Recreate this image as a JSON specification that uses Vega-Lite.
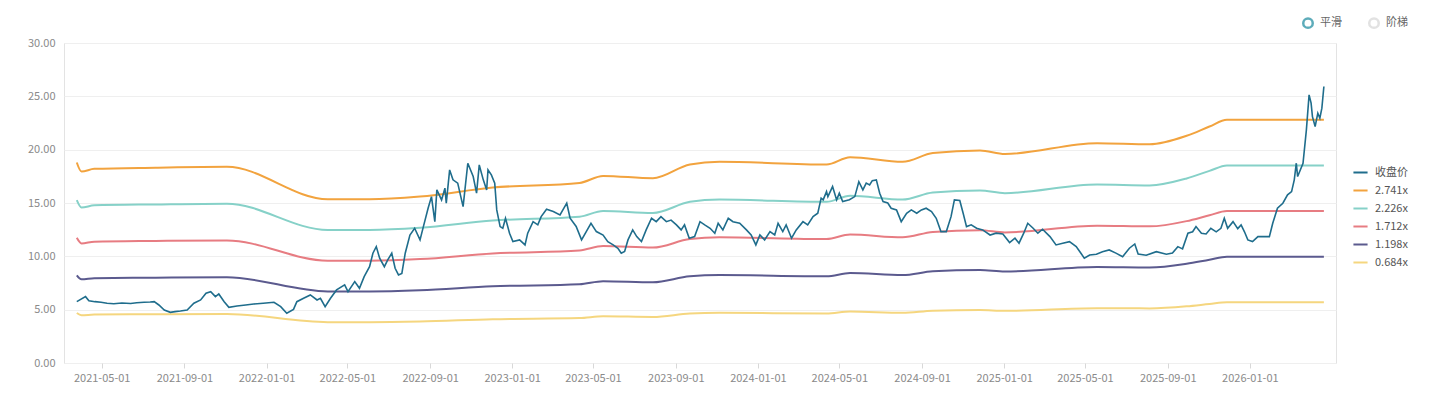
{
  "$schema": "https://vega.github.io/schema/vega-lite/v6.json",
  "width": 1272,
  "height": 320,
  "autosize": {"type": "none"},
  "padding": {"left": 64, "top": 43, "right": 101, "bottom": 39},
  "background": "#ffffff",
  "config": {
    "font": "Noto Sans CJK SC",
    "view": {"stroke": "#e3e3e3"},
    "axis": {
      "labelFont": "Noto Sans CJK SC",
      "labelFontSize": 11,
      "labelColor": "#8a8a8a",
      "gridColor": "#efefef",
      "domain": false,
      "tickColor": "#d8d8d8",
      "title": null
    },
    "legend": {"labelFont": "Noto Sans CJK SC"}
  },
  "datasets": {
    "price": [
      {"date": "2021-03-25", "series": "收盘价", "value": 5.75},
      {"date": "2021-04-07", "series": "收盘价", "value": 6.22},
      {"date": "2021-04-12", "series": "收盘价", "value": 5.84},
      {"date": "2021-04-21", "series": "收盘价", "value": 5.75},
      {"date": "2021-04-30", "series": "收盘价", "value": 5.69},
      {"date": "2021-05-09", "series": "收盘价", "value": 5.6},
      {"date": "2021-05-19", "series": "收盘价", "value": 5.55},
      {"date": "2021-05-31", "series": "收盘价", "value": 5.62},
      {"date": "2021-06-13", "series": "收盘价", "value": 5.58},
      {"date": "2021-06-22", "series": "收盘价", "value": 5.65},
      {"date": "2021-07-03", "series": "收盘价", "value": 5.69},
      {"date": "2021-07-12", "series": "收盘价", "value": 5.72},
      {"date": "2021-07-18", "series": "收盘价", "value": 5.75},
      {"date": "2021-07-25", "series": "收盘价", "value": 5.44},
      {"date": "2021-08-02", "series": "收盘价", "value": 4.97},
      {"date": "2021-08-11", "series": "收盘价", "value": 4.75},
      {"date": "2021-08-18", "series": "收盘价", "value": 4.82},
      {"date": "2021-08-26", "series": "收盘价", "value": 4.88},
      {"date": "2021-09-05", "series": "收盘价", "value": 4.97},
      {"date": "2021-09-15", "series": "收盘价", "value": 5.6},
      {"date": "2021-09-25", "series": "收盘价", "value": 5.91},
      {"date": "2021-10-03", "series": "收盘价", "value": 6.54},
      {"date": "2021-10-10", "series": "收盘价", "value": 6.69},
      {"date": "2021-10-17", "series": "收盘价", "value": 6.22},
      {"date": "2021-10-22", "series": "收盘价", "value": 6.47},
      {"date": "2021-10-30", "series": "收盘价", "value": 5.75},
      {"date": "2021-11-06", "series": "收盘价", "value": 5.22},
      {"date": "2021-11-18", "series": "收盘价", "value": 5.35},
      {"date": "2021-12-01", "series": "收盘价", "value": 5.44},
      {"date": "2021-12-13", "series": "收盘价", "value": 5.53},
      {"date": "2021-12-27", "series": "收盘价", "value": 5.6},
      {"date": "2022-01-12", "series": "收盘价", "value": 5.69},
      {"date": "2022-01-22", "series": "收盘价", "value": 5.28},
      {"date": "2022-01-31", "series": "收盘价", "value": 4.66},
      {"date": "2022-02-10", "series": "收盘价", "value": 5.03},
      {"date": "2022-02-15", "series": "收盘价", "value": 5.75},
      {"date": "2022-02-25", "series": "收盘价", "value": 6.07},
      {"date": "2022-03-07", "series": "收盘价", "value": 6.38},
      {"date": "2022-03-17", "series": "收盘价", "value": 5.91},
      {"date": "2022-03-22", "series": "收盘价", "value": 6.07},
      {"date": "2022-03-29", "series": "收盘价", "value": 5.28},
      {"date": "2022-04-06", "series": "收盘价", "value": 6.07},
      {"date": "2022-04-15", "series": "收盘价", "value": 6.85},
      {"date": "2022-04-27", "series": "收盘价", "value": 7.32},
      {"date": "2022-05-02", "series": "收盘价", "value": 6.69},
      {"date": "2022-05-12", "series": "收盘价", "value": 7.63},
      {"date": "2022-05-19", "series": "收盘价", "value": 7.0},
      {"date": "2022-05-26", "series": "收盘价", "value": 8.1},
      {"date": "2022-06-03", "series": "收盘价", "value": 9.03},
      {"date": "2022-06-08", "series": "收盘价", "value": 10.29},
      {"date": "2022-06-13", "series": "收盘价", "value": 10.91},
      {"date": "2022-06-18", "series": "收盘价", "value": 9.82},
      {"date": "2022-06-25", "series": "收盘价", "value": 9.03},
      {"date": "2022-06-30", "series": "收盘价", "value": 9.66},
      {"date": "2022-07-06", "series": "收盘价", "value": 10.29},
      {"date": "2022-07-11", "series": "收盘价", "value": 8.88},
      {"date": "2022-07-16", "series": "收盘价", "value": 8.26},
      {"date": "2022-07-21", "series": "收盘价", "value": 8.4},
      {"date": "2022-07-26", "series": "收盘价", "value": 10.29},
      {"date": "2022-08-02", "series": "收盘价", "value": 12.0},
      {"date": "2022-08-09", "series": "收盘价", "value": 12.63},
      {"date": "2022-08-17", "series": "收盘价", "value": 11.54},
      {"date": "2022-08-22", "series": "收盘价", "value": 12.79},
      {"date": "2022-08-29", "series": "收盘价", "value": 14.51},
      {"date": "2022-09-03", "series": "收盘价", "value": 15.6},
      {"date": "2022-09-08", "series": "收盘价", "value": 13.25},
      {"date": "2022-09-11", "series": "收盘价", "value": 16.23},
      {"date": "2022-09-18", "series": "收盘价", "value": 15.29},
      {"date": "2022-09-23", "series": "收盘价", "value": 16.39},
      {"date": "2022-09-25", "series": "收盘价", "value": 14.98},
      {"date": "2022-09-30", "series": "收盘价", "value": 18.1},
      {"date": "2022-10-05", "series": "收盘价", "value": 17.17},
      {"date": "2022-10-12", "series": "收盘价", "value": 16.86},
      {"date": "2022-10-20", "series": "收盘价", "value": 14.66},
      {"date": "2022-10-27", "series": "收盘价", "value": 18.73},
      {"date": "2022-11-04", "series": "收盘价", "value": 17.48},
      {"date": "2022-11-09", "series": "收盘价", "value": 15.92},
      {"date": "2022-11-13", "series": "收盘价", "value": 18.57},
      {"date": "2022-11-19", "series": "收盘价", "value": 17.17},
      {"date": "2022-11-24", "series": "收盘价", "value": 16.23},
      {"date": "2022-11-26", "series": "收盘价", "value": 18.1},
      {"date": "2022-12-01", "series": "收盘价", "value": 17.64},
      {"date": "2022-12-06", "series": "收盘价", "value": 16.86},
      {"date": "2022-12-09", "series": "收盘价", "value": 14.35},
      {"date": "2022-12-14", "series": "收盘价", "value": 12.79},
      {"date": "2022-12-18", "series": "收盘价", "value": 12.63},
      {"date": "2022-12-22", "series": "收盘价", "value": 13.57},
      {"date": "2022-12-28", "series": "收盘价", "value": 12.17},
      {"date": "2023-01-02", "series": "收盘价", "value": 11.38},
      {"date": "2023-01-12", "series": "收盘价", "value": 11.54},
      {"date": "2023-01-20", "series": "收盘价", "value": 11.07},
      {"date": "2023-01-24", "series": "收盘价", "value": 12.17},
      {"date": "2023-02-01", "series": "收盘价", "value": 13.25},
      {"date": "2023-02-08", "series": "收盘价", "value": 12.95},
      {"date": "2023-02-13", "series": "收盘价", "value": 13.72},
      {"date": "2023-02-21", "series": "收盘价", "value": 14.42},
      {"date": "2023-03-03", "series": "收盘价", "value": 14.2},
      {"date": "2023-03-13", "series": "收盘价", "value": 13.88},
      {"date": "2023-03-23", "series": "收盘价", "value": 14.98},
      {"date": "2023-03-28", "series": "收盘价", "value": 13.57},
      {"date": "2023-04-06", "series": "收盘价", "value": 12.8},
      {"date": "2023-04-14", "series": "收盘价", "value": 11.54},
      {"date": "2023-04-21", "series": "收盘价", "value": 12.32},
      {"date": "2023-04-28", "series": "收盘价", "value": 13.1},
      {"date": "2023-05-06", "series": "收盘价", "value": 12.32},
      {"date": "2023-05-16", "series": "收盘价", "value": 12.0},
      {"date": "2023-05-23", "series": "收盘价", "value": 11.38},
      {"date": "2023-05-31", "series": "收盘价", "value": 11.07},
      {"date": "2023-06-07", "series": "收盘价", "value": 10.76},
      {"date": "2023-06-12", "series": "收盘价", "value": 10.29},
      {"date": "2023-06-17", "series": "收盘价", "value": 10.45},
      {"date": "2023-06-22", "series": "收盘价", "value": 11.54},
      {"date": "2023-06-29", "series": "收盘价", "value": 12.48},
      {"date": "2023-07-05", "series": "收盘价", "value": 11.85},
      {"date": "2023-07-12", "series": "收盘价", "value": 11.38},
      {"date": "2023-07-19", "series": "收盘价", "value": 12.48},
      {"date": "2023-07-27", "series": "收盘价", "value": 13.57},
      {"date": "2023-08-03", "series": "收盘价", "value": 13.25},
      {"date": "2023-08-10", "series": "收盘价", "value": 13.72},
      {"date": "2023-08-18", "series": "收盘价", "value": 13.25},
      {"date": "2023-08-25", "series": "收盘价", "value": 13.4},
      {"date": "2023-09-02", "series": "收盘价", "value": 12.95},
      {"date": "2023-09-09", "series": "收盘价", "value": 12.48},
      {"date": "2023-09-14", "series": "收盘价", "value": 12.95},
      {"date": "2023-09-21", "series": "收盘价", "value": 11.7},
      {"date": "2023-09-29", "series": "收盘价", "value": 11.85},
      {"date": "2023-10-07", "series": "收盘价", "value": 13.25},
      {"date": "2023-10-14", "series": "收盘价", "value": 12.95},
      {"date": "2023-10-22", "series": "收盘价", "value": 12.63},
      {"date": "2023-10-29", "series": "收盘价", "value": 12.17},
      {"date": "2023-11-03", "series": "收盘价", "value": 13.1},
      {"date": "2023-11-10", "series": "收盘价", "value": 12.48},
      {"date": "2023-11-18", "series": "收盘价", "value": 13.57},
      {"date": "2023-11-25", "series": "收盘价", "value": 13.25},
      {"date": "2023-12-05", "series": "收盘价", "value": 13.1},
      {"date": "2023-12-15", "series": "收盘价", "value": 12.48},
      {"date": "2023-12-22", "series": "收盘价", "value": 12.0},
      {"date": "2023-12-29", "series": "收盘价", "value": 11.07},
      {"date": "2024-01-04", "series": "收盘价", "value": 12.0},
      {"date": "2024-01-11", "series": "收盘价", "value": 11.54},
      {"date": "2024-01-19", "series": "收盘价", "value": 12.32},
      {"date": "2024-01-26", "series": "收盘价", "value": 12.0},
      {"date": "2024-01-31", "series": "收盘价", "value": 13.1},
      {"date": "2024-02-07", "series": "收盘价", "value": 12.32},
      {"date": "2024-02-12", "series": "收盘价", "value": 12.95},
      {"date": "2024-02-20", "series": "收盘价", "value": 11.7},
      {"date": "2024-02-27", "series": "收盘价", "value": 12.48},
      {"date": "2024-03-08", "series": "收盘价", "value": 13.25},
      {"date": "2024-03-15", "series": "收盘价", "value": 12.95},
      {"date": "2024-03-23", "series": "收盘价", "value": 13.72},
      {"date": "2024-03-30", "series": "收盘价", "value": 14.04},
      {"date": "2024-04-04", "series": "收盘价", "value": 15.45},
      {"date": "2024-04-07", "series": "收盘价", "value": 15.29},
      {"date": "2024-04-12", "series": "收盘价", "value": 16.07},
      {"date": "2024-04-14", "series": "收盘价", "value": 15.6},
      {"date": "2024-04-21", "series": "收盘价", "value": 16.54},
      {"date": "2024-04-27", "series": "收盘价", "value": 15.29},
      {"date": "2024-05-01", "series": "收盘价", "value": 15.92},
      {"date": "2024-05-06", "series": "收盘价", "value": 15.13},
      {"date": "2024-05-16", "series": "收盘价", "value": 15.3},
      {"date": "2024-05-24", "series": "收盘价", "value": 15.6},
      {"date": "2024-05-30", "series": "收盘价", "value": 17.0},
      {"date": "2024-06-05", "series": "收盘价", "value": 16.23},
      {"date": "2024-06-10", "series": "收盘价", "value": 16.86},
      {"date": "2024-06-15", "series": "收盘价", "value": 16.7},
      {"date": "2024-06-19", "series": "收盘价", "value": 17.1},
      {"date": "2024-06-25", "series": "收盘价", "value": 17.17},
      {"date": "2024-06-30", "series": "收盘价", "value": 15.92},
      {"date": "2024-07-05", "series": "收盘价", "value": 15.13},
      {"date": "2024-07-12", "series": "收盘价", "value": 15.0},
      {"date": "2024-07-17", "series": "收盘价", "value": 14.51},
      {"date": "2024-07-25", "series": "收盘价", "value": 14.35},
      {"date": "2024-08-01", "series": "收盘价", "value": 13.25},
      {"date": "2024-08-09", "series": "收盘价", "value": 14.04},
      {"date": "2024-08-16", "series": "收盘价", "value": 14.35},
      {"date": "2024-08-24", "series": "收盘价", "value": 14.04},
      {"date": "2024-08-31", "series": "收盘价", "value": 14.35},
      {"date": "2024-09-07", "series": "收盘价", "value": 14.51},
      {"date": "2024-09-15", "series": "收盘价", "value": 14.2},
      {"date": "2024-09-22", "series": "收盘价", "value": 13.57},
      {"date": "2024-09-29", "series": "收盘价", "value": 12.32},
      {"date": "2024-10-07", "series": "收盘价", "value": 12.32},
      {"date": "2024-10-14", "series": "收盘价", "value": 13.72},
      {"date": "2024-10-19", "series": "收盘价", "value": 15.29},
      {"date": "2024-10-27", "series": "收盘价", "value": 15.23},
      {"date": "2024-11-01", "series": "收盘价", "value": 14.04},
      {"date": "2024-11-06", "series": "收盘价", "value": 12.79},
      {"date": "2024-11-13", "series": "收盘价", "value": 12.95},
      {"date": "2024-11-21", "series": "收盘价", "value": 12.63},
      {"date": "2024-11-30", "series": "收盘价", "value": 12.48},
      {"date": "2024-12-11", "series": "收盘价", "value": 12.0},
      {"date": "2024-12-20", "series": "收盘价", "value": 12.17},
      {"date": "2024-12-30", "series": "收盘价", "value": 12.1},
      {"date": "2025-01-09", "series": "收盘价", "value": 11.29},
      {"date": "2025-01-17", "series": "收盘价", "value": 11.7},
      {"date": "2025-01-23", "series": "收盘价", "value": 11.23},
      {"date": "2025-01-30", "series": "收盘价", "value": 12.17},
      {"date": "2025-02-05", "series": "收盘价", "value": 13.1},
      {"date": "2025-02-13", "series": "收盘价", "value": 12.63},
      {"date": "2025-02-20", "series": "收盘价", "value": 12.17},
      {"date": "2025-02-27", "series": "收盘价", "value": 12.54},
      {"date": "2025-03-10", "series": "收盘价", "value": 11.85},
      {"date": "2025-03-19", "series": "收盘价", "value": 11.07},
      {"date": "2025-03-29", "series": "收盘价", "value": 11.23},
      {"date": "2025-04-08", "series": "收盘价", "value": 11.38},
      {"date": "2025-04-18", "series": "收盘价", "value": 10.91},
      {"date": "2025-04-25", "series": "收盘价", "value": 10.29},
      {"date": "2025-04-30", "series": "收盘价", "value": 9.82},
      {"date": "2025-05-08", "series": "收盘价", "value": 10.13},
      {"date": "2025-05-18", "series": "收盘价", "value": 10.2},
      {"date": "2025-05-27", "series": "收盘价", "value": 10.44},
      {"date": "2025-06-06", "series": "收盘价", "value": 10.6},
      {"date": "2025-06-16", "series": "收盘价", "value": 10.3},
      {"date": "2025-06-26", "series": "收盘价", "value": 9.97},
      {"date": "2025-07-06", "series": "收盘价", "value": 10.76},
      {"date": "2025-07-14", "series": "收盘价", "value": 11.16},
      {"date": "2025-07-19", "series": "收盘价", "value": 10.22},
      {"date": "2025-07-31", "series": "收盘价", "value": 10.1},
      {"date": "2025-08-15", "series": "收盘价", "value": 10.44},
      {"date": "2025-08-30", "series": "收盘价", "value": 10.2},
      {"date": "2025-09-08", "series": "收盘价", "value": 10.3},
      {"date": "2025-09-16", "series": "收盘价", "value": 10.91},
      {"date": "2025-09-23", "series": "收盘价", "value": 10.7},
      {"date": "2025-10-01", "series": "收盘价", "value": 12.17},
      {"date": "2025-10-08", "series": "收盘价", "value": 12.3},
      {"date": "2025-10-13", "series": "收盘价", "value": 12.79},
      {"date": "2025-10-21", "series": "收盘价", "value": 12.17},
      {"date": "2025-10-28", "series": "收盘价", "value": 12.1},
      {"date": "2025-11-04", "series": "收盘价", "value": 12.63},
      {"date": "2025-11-12", "series": "收盘价", "value": 12.3},
      {"date": "2025-11-19", "series": "收盘价", "value": 12.63},
      {"date": "2025-11-24", "series": "收盘价", "value": 13.57},
      {"date": "2025-11-29", "series": "收盘价", "value": 12.63},
      {"date": "2025-12-07", "series": "收盘价", "value": 13.25},
      {"date": "2025-12-14", "series": "收盘价", "value": 12.6},
      {"date": "2025-12-19", "series": "收盘价", "value": 12.95},
      {"date": "2025-12-24", "series": "收盘价", "value": 12.3},
      {"date": "2025-12-29", "series": "收盘价", "value": 11.54},
      {"date": "2026-01-05", "series": "收盘价", "value": 11.38},
      {"date": "2026-01-13", "series": "收盘价", "value": 11.85},
      {"date": "2026-01-20", "series": "收盘价", "value": 11.85},
      {"date": "2026-01-30", "series": "收盘价", "value": 11.85},
      {"date": "2026-02-04", "series": "收盘价", "value": 13.1},
      {"date": "2026-02-11", "series": "收盘价", "value": 14.51},
      {"date": "2026-02-19", "series": "收盘价", "value": 14.98},
      {"date": "2026-02-26", "series": "收盘价", "value": 15.76},
      {"date": "2026-03-04", "series": "收盘价", "value": 16.07},
      {"date": "2026-03-08", "series": "收盘价", "value": 17.17},
      {"date": "2026-03-11", "series": "收盘价", "value": 18.73},
      {"date": "2026-03-13", "series": "收盘价", "value": 17.48},
      {"date": "2026-03-21", "series": "收盘价", "value": 18.73},
      {"date": "2026-03-26", "series": "收盘价", "value": 21.86},
      {"date": "2026-03-30", "series": "收盘价", "value": 25.14},
      {"date": "2026-04-02", "series": "收盘价", "value": 24.36},
      {"date": "2026-04-04", "series": "收盘价", "value": 23.1},
      {"date": "2026-04-08", "series": "收盘价", "value": 22.17},
      {"date": "2026-04-12", "series": "收盘价", "value": 23.42},
      {"date": "2026-04-15", "series": "收盘价", "value": 22.95},
      {"date": "2026-04-18", "series": "收盘价", "value": 23.89},
      {"date": "2026-04-21", "series": "收盘价", "value": 25.92}
    ],
    "bands": [
      {"date": "2021-03-25", "series": "2.741x", "value": 18.8},
      {"date": "2021-04-01", "series": "2.741x", "value": 17.95},
      {"date": "2021-04-20", "series": "2.741x", "value": 18.2},
      {"date": "2021-07-20", "series": "2.741x", "value": 18.31},
      {"date": "2021-11-03", "series": "2.741x", "value": 18.39},
      {"date": "2022-04-02", "series": "2.741x", "value": 15.35},
      {"date": "2022-06-03", "series": "2.741x", "value": 15.35},
      {"date": "2022-08-17", "series": "2.741x", "value": 15.6},
      {"date": "2022-12-03", "series": "2.741x", "value": 16.45},
      {"date": "2023-04-11", "series": "2.741x", "value": 16.88},
      {"date": "2023-05-16", "series": "2.741x", "value": 17.54},
      {"date": "2023-07-29", "series": "2.741x", "value": 17.32},
      {"date": "2023-09-22", "series": "2.741x", "value": 18.61},
      {"date": "2023-11-05", "series": "2.741x", "value": 18.86},
      {"date": "2024-04-12", "series": "2.741x", "value": 18.61},
      {"date": "2024-05-17", "series": "2.741x", "value": 19.3},
      {"date": "2024-08-03", "series": "2.741x", "value": 18.86},
      {"date": "2024-09-17", "series": "2.741x", "value": 19.68},
      {"date": "2024-11-26", "series": "2.741x", "value": 19.93},
      {"date": "2025-01-02", "series": "2.741x", "value": 19.6},
      {"date": "2025-05-19", "series": "2.741x", "value": 20.61},
      {"date": "2025-08-05", "series": "2.741x", "value": 20.5},
      {"date": "2025-09-29", "series": "2.741x", "value": 21.3},
      {"date": "2025-11-02", "series": "2.741x", "value": 22.17},
      {"date": "2025-11-28", "series": "2.741x", "value": 22.81},
      {"date": "2026-04-21", "series": "2.741x", "value": 22.81},
      {"date": "2021-03-25", "series": "2.226x", "value": 15.27},
      {"date": "2021-04-01", "series": "2.226x", "value": 14.58},
      {"date": "2021-04-20", "series": "2.226x", "value": 14.78},
      {"date": "2021-07-20", "series": "2.226x", "value": 14.87},
      {"date": "2021-11-03", "series": "2.226x", "value": 14.94},
      {"date": "2022-04-02", "series": "2.226x", "value": 12.47},
      {"date": "2022-06-03", "series": "2.226x", "value": 12.47},
      {"date": "2022-08-17", "series": "2.226x", "value": 12.67},
      {"date": "2022-12-03", "series": "2.226x", "value": 13.36},
      {"date": "2023-04-11", "series": "2.226x", "value": 13.71},
      {"date": "2023-05-16", "series": "2.226x", "value": 14.25},
      {"date": "2023-07-29", "series": "2.226x", "value": 14.07},
      {"date": "2023-09-22", "series": "2.226x", "value": 15.11},
      {"date": "2023-11-05", "series": "2.226x", "value": 15.32},
      {"date": "2024-04-12", "series": "2.226x", "value": 15.11},
      {"date": "2024-05-17", "series": "2.226x", "value": 15.67},
      {"date": "2024-08-03", "series": "2.226x", "value": 15.32},
      {"date": "2024-09-17", "series": "2.226x", "value": 15.98},
      {"date": "2024-11-26", "series": "2.226x", "value": 16.18},
      {"date": "2025-01-02", "series": "2.226x", "value": 15.92},
      {"date": "2025-05-19", "series": "2.226x", "value": 16.74},
      {"date": "2025-08-05", "series": "2.226x", "value": 16.65},
      {"date": "2025-09-29", "series": "2.226x", "value": 17.3},
      {"date": "2025-11-02", "series": "2.226x", "value": 18.01},
      {"date": "2025-11-28", "series": "2.226x", "value": 18.52},
      {"date": "2026-04-21", "series": "2.226x", "value": 18.52},
      {"date": "2021-03-25", "series": "1.712x", "value": 11.74},
      {"date": "2021-04-01", "series": "1.712x", "value": 11.21},
      {"date": "2021-04-20", "series": "1.712x", "value": 11.37},
      {"date": "2021-07-20", "series": "1.712x", "value": 11.44},
      {"date": "2021-11-03", "series": "1.712x", "value": 11.49},
      {"date": "2022-04-02", "series": "1.712x", "value": 9.59},
      {"date": "2022-06-03", "series": "1.712x", "value": 9.59},
      {"date": "2022-08-17", "series": "1.712x", "value": 9.74},
      {"date": "2022-12-03", "series": "1.712x", "value": 10.27},
      {"date": "2023-04-11", "series": "1.712x", "value": 10.55},
      {"date": "2023-05-16", "series": "1.712x", "value": 10.96},
      {"date": "2023-07-29", "series": "1.712x", "value": 10.82},
      {"date": "2023-09-22", "series": "1.712x", "value": 11.62},
      {"date": "2023-11-05", "series": "1.712x", "value": 11.78},
      {"date": "2024-04-12", "series": "1.712x", "value": 11.62},
      {"date": "2024-05-17", "series": "1.712x", "value": 12.05},
      {"date": "2024-08-03", "series": "1.712x", "value": 11.78},
      {"date": "2024-09-17", "series": "1.712x", "value": 12.29},
      {"date": "2024-11-26", "series": "1.712x", "value": 12.45},
      {"date": "2025-01-02", "series": "1.712x", "value": 12.24},
      {"date": "2025-05-19", "series": "1.712x", "value": 12.87},
      {"date": "2025-08-05", "series": "1.712x", "value": 12.81},
      {"date": "2025-09-29", "series": "1.712x", "value": 13.3},
      {"date": "2025-11-02", "series": "1.712x", "value": 13.85},
      {"date": "2025-11-28", "series": "1.712x", "value": 14.24},
      {"date": "2026-04-21", "series": "1.712x", "value": 14.24},
      {"date": "2021-03-25", "series": "1.198x", "value": 8.22},
      {"date": "2021-04-01", "series": "1.198x", "value": 7.85},
      {"date": "2021-04-20", "series": "1.198x", "value": 7.95},
      {"date": "2021-07-20", "series": "1.198x", "value": 8.0},
      {"date": "2021-11-03", "series": "1.198x", "value": 8.04},
      {"date": "2022-04-02", "series": "1.198x", "value": 6.71},
      {"date": "2022-06-03", "series": "1.198x", "value": 6.71},
      {"date": "2022-08-17", "series": "1.198x", "value": 6.82},
      {"date": "2022-12-03", "series": "1.198x", "value": 7.19},
      {"date": "2023-04-11", "series": "1.198x", "value": 7.38},
      {"date": "2023-05-16", "series": "1.198x", "value": 7.67},
      {"date": "2023-07-29", "series": "1.198x", "value": 7.57},
      {"date": "2023-09-22", "series": "1.198x", "value": 8.13},
      {"date": "2023-11-05", "series": "1.198x", "value": 8.24},
      {"date": "2024-04-12", "series": "1.198x", "value": 8.13},
      {"date": "2024-05-17", "series": "1.198x", "value": 8.43},
      {"date": "2024-08-03", "series": "1.198x", "value": 8.24},
      {"date": "2024-09-17", "series": "1.198x", "value": 8.6},
      {"date": "2024-11-26", "series": "1.198x", "value": 8.71},
      {"date": "2025-01-02", "series": "1.198x", "value": 8.57},
      {"date": "2025-05-19", "series": "1.198x", "value": 9.01},
      {"date": "2025-08-05", "series": "1.198x", "value": 8.96},
      {"date": "2025-09-29", "series": "1.198x", "value": 9.31},
      {"date": "2025-11-02", "series": "1.198x", "value": 9.69},
      {"date": "2025-11-28", "series": "1.198x", "value": 9.97},
      {"date": "2026-04-21", "series": "1.198x", "value": 9.97},
      {"date": "2021-03-25", "series": "0.684x", "value": 4.69},
      {"date": "2021-04-01", "series": "0.684x", "value": 4.48},
      {"date": "2021-04-20", "series": "0.684x", "value": 4.54},
      {"date": "2021-07-20", "series": "0.684x", "value": 4.57},
      {"date": "2021-11-03", "series": "0.684x", "value": 4.59},
      {"date": "2022-04-02", "series": "0.684x", "value": 3.83},
      {"date": "2022-06-03", "series": "0.684x", "value": 3.83},
      {"date": "2022-08-17", "series": "0.684x", "value": 3.89},
      {"date": "2022-12-03", "series": "0.684x", "value": 4.1},
      {"date": "2023-04-11", "series": "0.684x", "value": 4.21},
      {"date": "2023-05-16", "series": "0.684x", "value": 4.38},
      {"date": "2023-07-29", "series": "0.684x", "value": 4.32},
      {"date": "2023-09-22", "series": "0.684x", "value": 4.64},
      {"date": "2023-11-05", "series": "0.684x", "value": 4.71},
      {"date": "2024-04-12", "series": "0.684x", "value": 4.64},
      {"date": "2024-05-17", "series": "0.684x", "value": 4.82},
      {"date": "2024-08-03", "series": "0.684x", "value": 4.71},
      {"date": "2024-09-17", "series": "0.684x", "value": 4.91},
      {"date": "2024-11-26", "series": "0.684x", "value": 4.97},
      {"date": "2025-01-02", "series": "0.684x", "value": 4.89},
      {"date": "2025-05-19", "series": "0.684x", "value": 5.14},
      {"date": "2025-08-05", "series": "0.684x", "value": 5.12},
      {"date": "2025-09-29", "series": "0.684x", "value": 5.31},
      {"date": "2025-11-02", "series": "0.684x", "value": 5.53},
      {"date": "2025-11-28", "series": "0.684x", "value": 5.69},
      {"date": "2026-04-21", "series": "0.684x", "value": 5.69}
    ],
    "modes": [
      {"mode": "平滑"},
      {"mode": "阶梯"}
    ]
  },
  "encoding": {
    "x": {
      "field": "date",
      "type": "temporal",
      "scale": {
        "type": "utc",
        "domain": [
          {"year": 2021, "month": 3, "date": 6, "utc": true},
          {"year": 2026, "month": 5, "date": 9, "utc": true}
        ]
      },
      "axis": {
        "grid": false,
        "ticks": true,
        "tickSize": 5,
        "labelPadding": 4,
        "labelExpr": "utcFormat(datum.value, '%Y-%m-%d')",
        "values": [
          {"year": 2021, "month": 5, "date": 1, "utc": true},
          {"year": 2021, "month": 9, "date": 1, "utc": true},
          {"year": 2022, "month": 1, "date": 1, "utc": true},
          {"year": 2022, "month": 5, "date": 1, "utc": true},
          {"year": 2022, "month": 9, "date": 1, "utc": true},
          {"year": 2023, "month": 1, "date": 1, "utc": true},
          {"year": 2023, "month": 5, "date": 1, "utc": true},
          {"year": 2023, "month": 9, "date": 1, "utc": true},
          {"year": 2024, "month": 1, "date": 1, "utc": true},
          {"year": 2024, "month": 5, "date": 1, "utc": true},
          {"year": 2024, "month": 9, "date": 1, "utc": true},
          {"year": 2025, "month": 1, "date": 1, "utc": true},
          {"year": 2025, "month": 5, "date": 1, "utc": true},
          {"year": 2025, "month": 9, "date": 1, "utc": true},
          {"year": 2026, "month": 1, "date": 1, "utc": true}
        ]
      }
    },
    "y": {
      "field": "value",
      "type": "quantitative",
      "scale": {"domain": [0, 30], "nice": false},
      "axis": {
        "grid": true,
        "ticks": false,
        "labelPadding": 9,
        "format": ".2f",
        "values": [0, 5, 10, 15, 20, 25, 30]
      }
    }
  },
  "layer": [
    {
      "data": {"name": "bands"},
      "mark": {"type": "line", "strokeWidth": 2, "interpolate": "monotone"},
      "encoding": {
        "color": {
          "field": "series",
          "type": "nominal",
          "scale": {
            "domain": ["收盘价", "2.741x", "2.226x", "1.712x", "1.198x", "0.684x"],
            "range": ["#1f6d8c", "#f2a33e", "#86d1c8", "#e77c82", "#5b5a8e", "#f5d67f"]
          },
          "legend": {
            "orient": "none",
            "legendX": 1288,
            "legendY": 121,
            "title": null,
            "symbolType": "stroke",
            "symbolSize": 200,
            "symbolStrokeWidth": 2,
            "labelFontSize": 11,
            "labelColor": "#555555",
            "rowPadding": 4,
            "labelOffset": 6
          }
        }
      }
    },
    {
      "data": {"name": "price"},
      "mark": {"type": "line", "strokeWidth": 1.6},
      "encoding": {
        "color": {"field": "series", "type": "nominal"}
      }
    },
    {
      "data": {"name": "modes"},
      "transform": [{"filter": "false"}],
      "mark": {"type": "point", "filled": false},
      "encoding": {
        "x": null,
        "y": null,
        "stroke": {
          "field": "mode",
          "type": "nominal",
          "scale": {"domain": ["平滑", "阶梯"], "range": ["#1a8a9e", "#d6d6d6"]},
          "legend": {
            "orient": "none",
            "direction": "horizontal",
            "legendX": 1238,
            "legendY": -26,
            "title": null,
            "symbolType": "circle",
            "symbolSize": 90,
            "symbolStrokeWidth": 2.5,
            "symbolFillColor": "#ffffff",
            "labelFontSize": 11,
            "labelColor": "#666666",
            "labelOffset": 6,
            "columnPadding": 22
          }
        }
      }
    }
  ]
}
